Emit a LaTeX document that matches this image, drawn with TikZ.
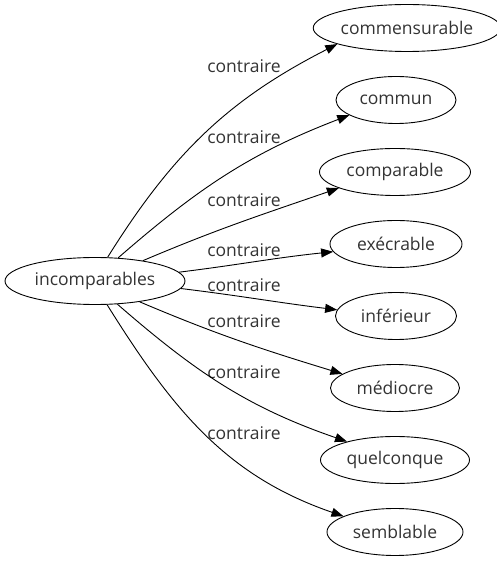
\documentclass[tikz,border=0pt]{standalone}
\usepackage{fontspec}
\setmainfont{Open Sans}
\usetikzlibrary{arrows.meta,shapes.geometric}
\definecolor{wordgray}{HTML}{333333}
\tikzset{
    wordnode/.style={draw, ellipse, inner sep=0pt, minimum height=47pt,
        font=\fontsize{17.5}{20}\selectfont, text=wordgray, line width=0.9pt},
    contrlabel/.style={font=\fontsize{17.5}{20}\selectfont, text=wordgray, inner sep=0pt},
    contrarrow/.style={-{Triangle[length=12pt,width=9pt]}, line width=0.9pt}
}

\begin{document}
\begin{tikzpicture}[x=1pt,y=1pt]
\useasboundingbox (0,0) rectangle (497,563);
\node[wordnode, minimum width=180pt] (incomparables) at (95,282) {incomparables};
\node[wordnode, minimum width=170pt] (commensurable) at (407,535) {commensurable};
\node[wordnode, minimum width=120pt] (commun) at (396,463) {commun};
\node[wordnode, minimum width=151pt] (comparable) at (395,391) {comparable};
\node[wordnode, minimum width=132pt] (execrable) at (396,319) {exécrable};
\node[wordnode, minimum width=121pt] (inferieur) at (396,247) {inférieur};
\node[wordnode, minimum width=129pt] (mediocre) at (395,175) {médiocre};
\node[wordnode, minimum width=149pt] (quelconque) at (395,103) {quelconque};
\node[wordnode, minimum width=136pt] (semblable) at (395,31) {semblable};
% labels
\node[contrlabel] (lbl1) at (244,497) {contraire};
\node[contrlabel] (lbl2) at (244,426) {contraire};
\node[contrlabel] (lbl3) at (244,363) {contraire};
\node[contrlabel] (lbl4) at (244,313) {contraire};
\node[contrlabel] (lbl5) at (244,278) {contraire};
\node[contrlabel] (lbl6) at (244,242) {contraire};
\node[contrlabel] (lbl7) at (244,191) {contraire};
\node[contrlabel] (lbl8) at (244,130) {contraire};
% edges
\draw[contrarrow] (incomparables.62) to[out=58,in=207] (commensurable.193);
\draw[contrarrow] (incomparables.45) to[out=41,in=201] (commun.198);
\draw[contrarrow] (incomparables.23) to[out=23,in=199] (comparable.196);
\draw[contrarrow] (incomparables.6) to[out=7,in=186] (execrable.187);
\draw[contrarrow] (incomparables.-5) to[out=-7,in=173] (inferieur.174);
\draw[contrarrow] (incomparables.-25) to[out=-23,in=163] (mediocre.165);
\draw[contrarrow] (incomparables.-46) to[out=-41,in=161] (quelconque.159);
\draw[contrarrow] (incomparables.-63) to[out=-58,in=161] (semblable.163);
\end{tikzpicture}
\end{document}
